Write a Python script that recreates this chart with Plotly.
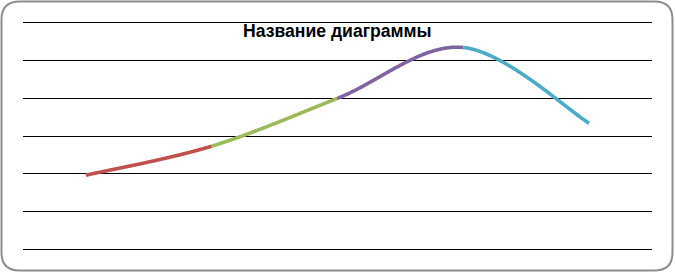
import plotly.graph_objects as go
import numpy as np

categories = [1, 2, 3, 4, 5]
values = [1.96, 2.73, 4.0, 5.35, 3.34]
segment_colors = ["#C0504D", "#9BBB59", "#8064A2", "#4BACC6"]
title_text = "Название диаграммы"

x = np.arange(len(values), dtype=float)
y = np.array(values, dtype=float)

def bezier_segment(i, n=120):
    p = np.column_stack([x, y])
    p0 = p[max(i - 1, 0)]
    p1 = p[i]
    p2 = p[i + 1]
    p3 = p[min(i + 2, len(p) - 1)]
    c1 = p1 + (p2 - p0) / 6.0
    c2 = p2 - (p3 - p1) / 6.0
    t = np.linspace(0, 1, n)[:, None]
    pts = ((1 - t) ** 3) * p1 + 3 * ((1 - t) ** 2) * t * c1 + 3 * (1 - t) * t ** 2 * c2 + t ** 3 * p2
    return pts[:, 0], pts[:, 1]

fig = go.Figure()
for i, col in enumerate(segment_colors):
    sx, sy = bezier_segment(i)
    fig.add_trace(go.Scatter(x=sx, y=sy, mode="lines",
                             line=dict(color=col, width=3.6, shape="spline", smoothing=0.6),
                             hoverinfo="skip", showlegend=False))

W, H = 675, 273
ml, mr, mt, mb = 23, 23, 23, 24
pw, ph = W - ml - mr, H - mt - mb

def px2paper_x(px):
    return (px - ml) / pw

def px2paper_y(py):
    return 1 - (py - mt) / ph

# rounded border
x0, x1, y0, y1, r = 1.5, 672.5, 1.5, 270.5, 18
path = (f"M {px2paper_x(x0 + r)} {px2paper_y(y0)} "
        f"L {px2paper_x(x1 - r)} {px2paper_y(y0)} "
        f"Q {px2paper_x(x1)} {px2paper_y(y0)} {px2paper_x(x1)} {px2paper_y(y0 + r)} "
        f"L {px2paper_x(x1)} {px2paper_y(y1 - r)} "
        f"Q {px2paper_x(x1)} {px2paper_y(y1)} {px2paper_x(x1 - r)} {px2paper_y(y1)} "
        f"L {px2paper_x(x0 + r)} {px2paper_y(y1)} "
        f"Q {px2paper_x(x0)} {px2paper_y(y1)} {px2paper_x(x0)} {px2paper_y(y1 - r)} "
        f"L {px2paper_x(x0)} {px2paper_y(y0 + r)} "
        f"Q {px2paper_x(x0)} {px2paper_y(y0)} {px2paper_x(x0 + r)} {px2paper_y(y0)} Z")

fig.add_shape(type="path", path=path, xref="paper", yref="paper",
              line=dict(color="#8C8C8C", width=2), layer="below")

fig.add_annotation(text="<b>" + title_text + "</b>", xref="paper", yref="paper",
                   x=px2paper_x(337.5), y=px2paper_y(31), showarrow=False,
                   xanchor="center", yanchor="middle",
                   font=dict(family="Liberation Sans", size=17.6, color="#000000"))

fig.update_layout(
    width=W, height=H,
    margin=dict(l=ml, r=mr, t=mt, b=mb),
    paper_bgcolor="white", plot_bgcolor="white",
    xaxis=dict(range=[-0.5, len(categories) - 0.5], showgrid=False, zeroline=False,
               showticklabels=False, ticks="", showline=True, mirror=True,
               linecolor="#000000", linewidth=1, fixedrange=True),
    yaxis=dict(range=[0, 6], dtick=1, showgrid=True, gridcolor="#000000", gridwidth=1,
               zeroline=False, showticklabels=False, ticks="", showline=False,
               fixedrange=True),
    showlegend=False,
)

fig.write_html("out.html")
